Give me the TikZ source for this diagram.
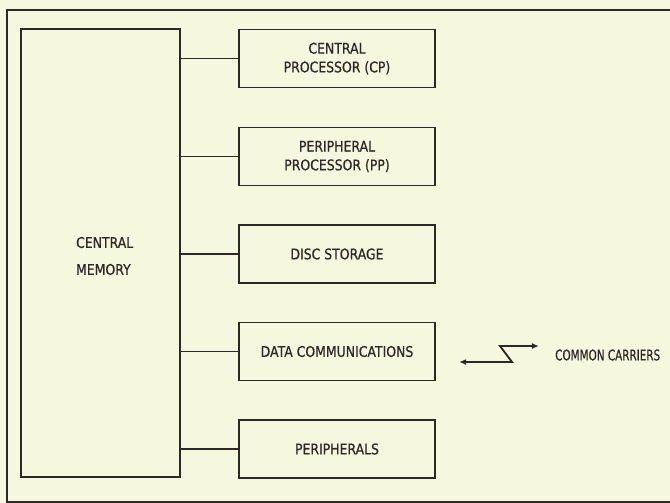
\documentclass[tikz,border=0pt]{standalone}
\usepackage{fontspec}
\newfontfamily\labelfont[FakeStretch=0.85,FakeBold=0.6]{DejaVu Sans}
\newfontfamily\carrierfont[FakeStretch=0.71,FakeBold=0.6]{DejaVu Sans}
\usetikzlibrary{arrows.meta}
\definecolor{paper}{RGB}{245,247,222}
\definecolor{ink}{RGB}{44,40,40}
\tikzset{
  unitbox/.style={draw=ink, line width=1.3pt, minimum width=196*0.03cm,
    minimum height=58*0.03cm, align=center, inner sep=0pt},
  link/.style={draw=ink, line width=1.4pt},
}
\begin{document}
\begin{tikzpicture}[x=0.03cm, y=-0.03cm, font=\labelfont\fontsize{12.5}{16}\selectfont,
    text=ink]
  % Paper and frame
  \fill [paper] (0, 0) rectangle (670, 503);
  \useasboundingbox (0, 0) rectangle (670, 503);
  \draw [ink, line width=1.2pt] (672, 10) -- (7, 10) -- (7, 502) -- (672, 502);

  % Central memory
  \node [unitbox, minimum width=159*0.03cm, minimum height=448*0.03cm]
        (mem) at (100.5, 253) {};
  \node [anchor=west, align=left, font=\labelfont\fontsize{12.5}{23}\selectfont]
        (memtext) at (72, 256) {CENTRAL\\MEMORY};

  % Attached units
  \node [unitbox] (cp)   at (337, 58.5)  {CENTRAL\\PROCESSOR (CP)};
  \node [unitbox] (pp)   at (337, 156.5) {PERIPHERAL\\PROCESSOR (PP)};
  \node [unitbox] (disc) at (337, 254)   {DISC STORAGE};
  \node [unitbox] (comm) at (337, 351.5) {DATA COMMUNICATIONS};
  \node [unitbox] (peri) at (337, 449)   {PERIPHERALS};

  % Links to memory
  \foreach \u in {cp, pp, disc, comm, peri}
    \draw [link] (mem.east |- \u.west) -- (\u.west);

  % Common carriers
  \coordinate (lineleft) at (459, 362);
  \coordinate (lineright) at (539, 346);
  \node [anchor=west, inner sep=0pt, font=\carrierfont\fontsize{12.5}{16}\selectfont]
        (carriers) at (555, 355) {COMMON CARRIERS};
  \draw [ink, line width=1.6pt,
         {Latex[length=6pt,width=5pt]}-{Latex[length=6pt,width=5pt]}]
        (lineleft) -- (512, 362) -- (500, 346) -- (lineright);
\end{tikzpicture}
\end{document}
